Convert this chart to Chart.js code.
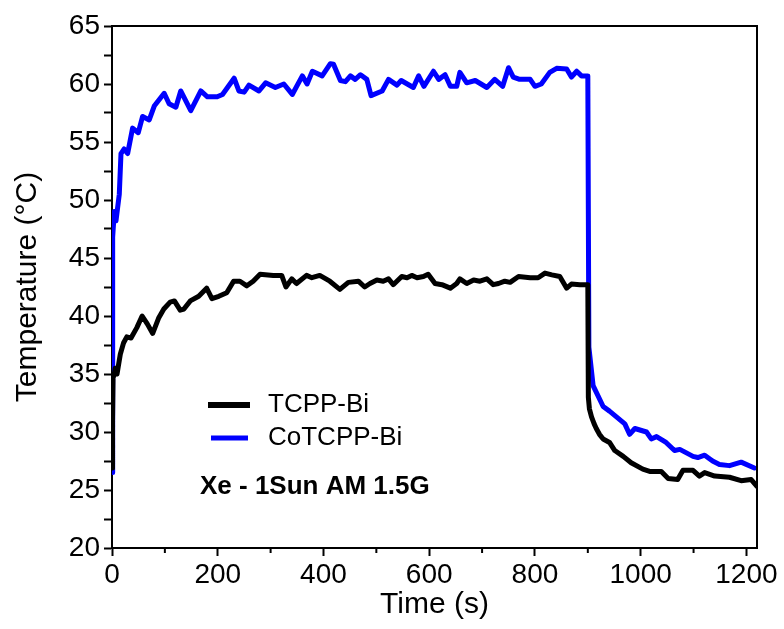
<!DOCTYPE html>
<html>
<head>
<meta charset="utf-8">
<script src="https://cdn.jsdelivr.net/npm/chart.js@4.4.0/dist/chart.umd.min.js"></script>
<style>
  html, body { margin: 0; padding: 0; background: #fff; overflow: hidden; }
  #wrap { width: 784px; height: 629px; }
</style>
</head>
<body>
<div id="wrap"><canvas id="myChart" width="784" height="629"></canvas></div>
<script>
// TCPP-Bi (black)
var tcppTime = [0, 1, 2, 4, 6, 9.5, 15.7, 22, 28, 36, 47, 57, 67, 77, 88, 98, 110, 118, 129, 136, 148, 164, 179, 189, 202, 217, 230, 242, 255, 267, 280, 305, 321, 329, 340, 349, 368, 378, 393, 412, 431, 447, 466, 478, 488, 501, 513, 523, 532, 548, 558, 567, 577, 589, 598, 611, 624, 640, 652, 658, 671, 684, 696, 709, 721, 731, 743, 753, 769, 791, 806, 819, 832, 847, 860, 869, 885, 900, 901, 903, 907, 912, 916, 922, 929, 941, 951, 967, 982, 1004, 1017, 1039, 1052, 1070, 1080, 1099, 1111, 1121, 1140, 1168, 1190, 1209, 1220];
var tcppTemp = [26.9, 31.0, 34.7, 34.9, 35.5, 35.0, 36.7, 37.7, 38.2, 38.1, 39.0, 40.0, 39.3, 38.5, 39.8, 40.6, 41.2, 41.3, 40.5, 40.6, 41.3, 41.7, 42.4, 41.5, 41.7, 42.0, 43.0, 43.0, 42.6, 43.0, 43.6, 43.5, 43.5, 42.5, 43.2, 42.8, 43.5, 43.3, 43.5, 43.0, 42.3, 42.9, 43.0, 42.5, 42.8, 43.1, 43.0, 43.2, 42.7, 43.4, 43.3, 43.5, 43.3, 43.4, 43.6, 42.8, 42.7, 42.4, 42.8, 43.2, 42.8, 43.1, 43.0, 43.2, 42.7, 42.8, 43.0, 42.9, 43.4, 43.3, 43.3, 43.7, 43.55, 43.4, 42.4, 42.75, 42.7, 42.7, 33.0, 32.0, 31.3, 30.7, 30.3, 29.8, 29.4, 29.1, 28.4, 27.9, 27.35, 26.8, 26.6, 26.6, 26.0, 25.9, 26.7, 26.7, 26.2, 26.5, 26.2, 26.1, 25.8, 25.9, 25.3];

// CoTCPP-Bi (blue)
var coTime = [0, 1, 1.5, 4.4, 7.5, 13.8, 17, 23, 29.6, 39, 49.7, 57.9, 70.4, 79.9, 98.7, 108, 120.8, 130, 149, 168, 180.5, 199, 209, 231, 240, 250, 259, 278, 290.6, 309, 325, 341, 360, 369, 379, 397.5, 413, 419, 432, 441.5, 451, 460, 470, 482, 490, 511, 523, 539, 547, 570, 580, 590, 608, 618, 630, 640, 652, 658, 671, 687, 709, 724, 739, 750, 759, 771, 791, 800, 812, 828, 841, 860, 869, 879, 888, 900, 902, 910, 929, 941, 957, 970, 979, 989, 1011, 1020, 1030, 1048, 1064, 1074, 1099, 1108, 1121, 1136, 1149, 1168, 1190, 1215];
var coTemp = [26.5, 35.5, 46.8, 49.0, 48.2, 50.5, 54.0, 54.4, 54.0, 56.2, 55.8, 57.2, 56.9, 58.1, 59.2, 58.3, 58.0, 59.4, 57.7, 59.4, 58.9, 58.9, 59.1, 60.5, 59.4, 59.3, 59.9, 59.4, 60.1, 59.7, 60.0, 59.1, 60.7, 60.0, 61.1, 60.7, 61.75, 61.7, 60.3, 60.2, 60.7, 60.4, 60.8, 60.4, 59.0, 59.4, 60.4, 59.9, 60.3, 59.7, 60.7, 59.8, 61.1, 60.4, 60.8, 59.8, 59.8, 61.0, 60.1, 60.3, 59.7, 60.4, 59.8, 61.4, 60.6, 60.4, 60.4, 59.8, 60.0, 61.0, 61.35, 61.3, 60.6, 61.1, 60.7, 60.7, 37.3, 34.0, 32.2, 31.8, 31.2, 30.7, 29.8, 30.3, 30.0, 29.4, 29.6, 29.1, 28.4, 28.5, 27.9, 27.8, 28.0, 27.5, 27.2, 27.1, 27.4, 26.9];

var seriesNames = ['TCPP-Bi', 'CoTCPP-Bi'];
var seriesColors = ['#000000', '#0000ff'];
var noteText = 'Xe - 1Sun AM 1.5G';
var xTitle = 'Time (s)';
var yTitle = 'Temperature (\u00B0C)';

function toPoints(xs, ys) {
  return xs.map(function (x, i) { return { x: x, y: ys[i] }; });
}

var FONT = '"Liberation Sans", Arial, sans-serif';

// frame, minor x ticks, legend and the note
var extras = {
  id: 'extras',
  afterDraw: function (chart) {
    var c = chart.ctx;
    var a = chart.chartArea;
    var xs = chart.scales.x;
    c.save();
    c.strokeStyle = '#000';
    c.lineWidth = 2;
    c.beginPath();
    c.moveTo(a.left, a.top);
    c.lineTo(a.right, a.top);
    c.lineTo(a.right, a.bottom);
    c.stroke();

    // minor ticks on x (short ones)
    for (var v = 100; v <= 1200; v += 200) {
      var px = xs.getPixelForValue(v);
      c.beginPath();
      c.moveTo(px, a.bottom);
      c.lineTo(px, a.bottom + 5);
      c.stroke();
    }

    // legend
    c.lineCap = 'butt';
    c.strokeStyle = seriesColors[0];
    c.lineWidth = 6;
    c.beginPath(); c.moveTo(208, 405); c.lineTo(250, 405); c.stroke();
    c.strokeStyle = seriesColors[1];
    c.lineWidth = 5;
    c.beginPath(); c.moveTo(211, 438); c.lineTo(248, 438); c.stroke();

    c.fillStyle = '#000';
    c.textBaseline = 'middle';
    c.textAlign = 'left';
    c.font = '26px ' + FONT;
    c.fillText(seriesNames[0], 268, 405);
    c.fillText(seriesNames[1], 268, 438);

    c.font = 'bold 26px ' + FONT;
    c.fillText(noteText, 200, 487);
    c.restore();
  }
};

var ctx = document.getElementById('myChart').getContext('2d');

var data = {
  datasets: [{
    label: seriesNames[0],
    data: toPoints(tcppTime, tcppTemp),
    borderColor: seriesColors[0],
    backgroundColor: seriesColors[0],
    borderWidth: 5
  }, {
    label: seriesNames[1],
    data: toPoints(coTime, coTemp),
    borderColor: seriesColors[1],
    backgroundColor: seriesColors[1],
    borderWidth: 5
  }]
};

var options = {
  responsive: false,
  animation: false,
  devicePixelRatio: 1,
  layout: { padding: { left: 0, right: 27, top: 26, bottom: 0 } },
  elements: {
    point: { radius: 0 },
    line: { tension: 0, borderJoinStyle: 'round', borderCapStyle: 'round' }
  },
  plugins: {
    legend: { display: false },
    tooltip: { enabled: false }
  },
  scales: {
    x: {
      type: 'linear',
      min: 0,
      max: 1220,
      afterFit: function (s) { s.height = 81; },
      border: { color: '#000', width: 2 },
      grid: {
        drawOnChartArea: false,
        tickLength: 8,
        tickWidth: 2,
        tickColor: function (c) { return c.tick && c.tick.value % 200 === 0 ? '#000' : 'rgba(0,0,0,0)'; }
      },
      ticks: {
        stepSize: 100,
        includeBounds: false,
        maxRotation: 0,
        autoSkip: false,
        color: '#000',
        padding: 2,
        font: { family: FONT, size: 28 },
        callback: function (v) { return v % 200 === 0 ? v : ''; }
      },
      title: {
        display: true,
        text: xTitle,
        color: '#000',
        font: { family: FONT, size: 30 },
        padding: { top: 0, bottom: 6 }
      }
    },
    y: {
      min: 20,
      max: 65,
      afterFit: function (s) { s.width = 112; },
      border: { color: '#000', width: 2 },
      grid: {
        drawOnChartArea: false,
        tickLength: 8,
        tickWidth: 2,
        tickColor: '#000'
      },
      ticks: {
        stepSize: 2.5,
        autoSkip: false,
        color: '#000',
        padding: 4,
        font: { family: FONT, size: 28 },
        callback: function (v) { return v % 5 === 0 ? v : ''; }
      },
      title: {
        display: true,
        text: yTitle,
        color: '#000',
        font: { family: FONT, size: 30 },
        padding: { top: 10, bottom: 0 }
      }
    }
  }
};

var myChart = new Chart(ctx, {
  type: 'line',
  data: data,
  options: options,
  plugins: [extras]
});
</script>
</body>
</html>
